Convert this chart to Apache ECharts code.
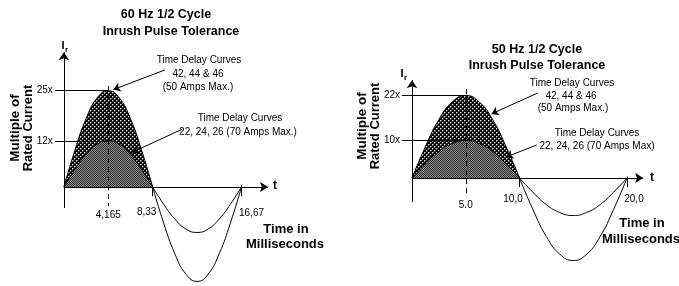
<!DOCTYPE html>
<html><head><meta charset="utf-8">
<script src="https://cdn.jsdelivr.net/npm/echarts@6/dist/echarts.min.js"></script>
<style>html,body{margin:0;padding:0;background:#fff}#c{width:679px;height:286px}</style>
</head><body><div id="c"></div>
<script>
// ---------- DATA ----------
// 60 Hz panel (time in ms, current in multiples of rated current)
const tLeft        = [0, 1.04, 2.08, 3.12, 4.165, 5.21, 6.25, 7.29, 8.33];
const bigLeft      = [0, 9.6, 17.7, 23.1, 25, 23.1, 17.7, 9.6, 0];
const smallLeft    = [0, 4.6, 8.5, 11.1, 12, 11.1, 8.5, 4.6, 0];
const tLeftNeg     = [8.33, 9.37, 10.41, 11.45, 12.5, 13.54, 14.58, 15.62, 16.67];
const bigLeftNeg   = [0, -9.4, -17.3, -22.6, -24.5, -22.6, -17.3, -9.4, 0];
const smallLeftNeg = [0, -4.5, -8.3, -10.9, -11.8, -10.9, -8.3, -4.5, 0];
const yTicksLeft   = [25, 12];
const yLabelsLeft  = ['25x', '12x'];
const xTicksLeft   = [4.165, 8.33, 16.67];
const xLabelsLeft  = ['4,165', '8,33', '16,67'];
const peakLeft     = 4.165;

// 50 Hz panel
const tRight        = [0, 1.25, 2.5, 3.75, 5, 6.25, 7.5, 8.75, 10];
const bigRight      = [0, 8.4, 15.6, 20.3, 22, 20.3, 15.6, 8.4, 0];
const smallRight    = [0, 3.8, 7.1, 9.2, 10, 9.2, 7.1, 3.8, 0];
const tRightNeg     = [10, 11.25, 12.5, 13.75, 15, 16.25, 17.5, 18.75, 20];
const bigRightNeg   = [0, -8.4, -15.6, -20.3, -22, -20.3, -15.6, -8.4, 0];
const smallRightNeg = [0, -3.8, -7.1, -9.2, -10, -9.2, -7.1, -3.8, 0];
const yTicksRight   = [22, 10];
const yLabelsRight  = ['22x', '10x'];
const xTicksRight   = [5, 10, 20];
const xLabelsRight  = ['5.0', '10,0', '20,0'];
const peakRight     = 5;

const titlesLeft  = ['60 Hz 1/2 Cycle', 'Inrush Pulse Tolerance'];
const titlesRight = ['50 Hz 1/2 Cycle', 'Inrush Pulse Tolerance'];
const note1 = ['Time Delay Curves', '42, 44 & 46', '(50 Amps Max.)'];
const note2Left  = ['Time Delay Curves', '22, 24, 26 (70 Amps Max.)'];
const note2Right = ['Time Delay Curves', '22, 24, 26 (70 Amps Max)'];
const yTitle = ['Multiple of', 'Rated Current'];
const xTitle = ['Time in', 'Milliseconds'];

// ---------- STYLE ----------
const FONT = '"Liberation Sans", Arial, Helvetica, sans-serif';
function makePattern(size, fn) {
  const c = document.createElement('canvas'); c.width = c.height = size;
  fn(c.getContext('2d')); return c;
}
const dotPat = makePattern(4, g => {
  g.fillStyle = '#000'; g.fillRect(0, 0, 4, 4);
  g.fillStyle = '#eee'; g.fillRect(0, 0, 1, 1); g.fillRect(2, 2, 1, 1);
  g.fillStyle = '#666'; [[1,0],[0,1],[3,2],[2,3]].forEach(p => g.fillRect(p[0], p[1], 1, 1));
});
const chkPat = makePattern(2, g => {
  g.fillStyle = '#2e2e2e'; g.fillRect(0, 0, 2, 2);
  g.fillStyle = '#8c8c8c'; g.fillRect(1, 0, 1, 1); g.fillRect(0, 1, 1, 1);
});

function pts(xs, ys) { return xs.map((x, i) => [x, ys[i]]); }
function curve(g, xs, ys, z, pat) {
  const s = { type: 'line', xAxisIndex: g, yAxisIndex: g, data: pts(xs, ys), smooth: true,
    symbol: 'none', silent: true, z: z, lineStyle: { color: '#000', width: 1 } };
  if (pat) s.areaStyle = { color: { image: pat, repeat: 'repeat' }, opacity: 1 };
  return s;
}
function lines(g, z, segs, style, arrow) {
  return { type: 'line', xAxisIndex: g, yAxisIndex: g, data: [], z: z, silent: true,
    markLine: { silent: true, animation: false, label: { show: false },
      symbol: arrow ? ['none', 'arrow'] : ['none', 'none'], symbolSize: arrow || 1,
      itemStyle: { color: '#000' },
      lineStyle: Object.assign({ color: '#000', width: 1, type: 'solid' }, style),
      emphasis: { disabled: true },
      data: segs.map(s => [{ coord: s[0] }, { coord: s[1] }]) } };
}

function panel(g, P) {
  const out = [];
  out.push(lines(g, 1, P.yTicks.map(v => [[P.tickStart, v], [P.peak, v]]), {}));
  out.push(curve(g, P.t, P.big, 2, dotPat));
  out.push(curve(g, P.t, P.small, 3, chkPat));
  out.push(curve(g, P.tNeg, P.bigNeg, 3));
  out.push(curve(g, P.tNeg, P.smallNeg, 3));
  out.push(lines(g, 4, [[[P.peak, P.dashTop], [P.peak, P.dashBottom]]], { type: [5, 4] }));
  out.push(lines(g, 5, P.xTicks.filter(v => v !== P.peak).map(v => [[v, P.tickUp], [v, P.tickDown]]), {}));
  out.push(lines(g, 5, [[[0, 0], [P.xEnd, 0]], [[0, P.yBottom], [0, P.yTop]]], {}, 8));
  out.push(lines(g, 6, P.pointers, {}, 7));
  return out;
}

const L = { t: tLeft, big: bigLeft, small: smallLeft, tNeg: tLeftNeg, bigNeg: bigLeftNeg, smallNeg: smallLeftNeg,
  yTicks: yTicksLeft, xTicks: xTicksLeft, peak: peakLeft, tickStart: -0.84, dashTop: 26.2, dashBottom: -4.9,
  tickUp: 0.5, tickDown: -2.4, xEnd: 19.15, yBottom: -5.45, yTop: 35.0,
  pointers: [[[9.49, 30.4], [4.65, 25.3]], [[11.1, 15.0], [6.4, 9.0]]] };
const R = { t: tRight, big: bigRight, small: smallRight, tNeg: tRightNeg, bigNeg: bigRightNeg, smallNeg: smallRightNeg,
  yTicks: yTicksRight, xTicks: xTicksRight, peak: peakRight, tickStart: -0.93, dashTop: 23.7, dashBottom: -4.5,
  tickUp: 0.4, tickDown: -2.4, xEnd: 21.5, yBottom: -6.4, yTop: 26.1,
  pointers: [[[11.72, 22.7], [7.4, 17.1]], [[11.6, 8.8], [8.75, 5.6]]] };

const chart = echarts.init(document.getElementById('c'), null, { renderer: 'canvas' });
chart.setOption({
  animation: false,
  grid: [{ left: 1, top: 0, width: 276, height: 286 }, { left: 340, top: 0, width: 339, height: 286 }],
  xAxis: [{ gridIndex: 0, type: 'value', min: -5.9, max: 20, show: false },
          { gridIndex: 1, type: 'value', min: -6.7, max: 24.84, show: false }],
  yAxis: [{ gridIndex: 0, type: 'value', min: -25.7, max: 48.55, show: false },
          { gridIndex: 1, type: 'value', min: -28.8, max: 47.47, show: false }],
  series: panel(0, L).concat(panel(1, R))
});

// ---------- TEXT ----------
function T(x, y, s, size, bold, align, rot) {
  const font = (bold ? 'bold ' : '') + size + 'px ' + FONT;
  const e = { type: 'text', x: x, y: y, z: 100, silent: true,
    style: { text: s, font: font, fill: '#000', textAlign: align || 'center', align: align || 'center',
             textVerticalAlign: 'middle', verticalAlign: 'middle' } };
  if (rot) e.rotation = rot;
  return e;
}
const G = [];
function px(g, v) { return chart.convertToPixel({ gridIndex: g }, v); }
function tickText(g, ticks, labels, dxs, dys) {
  ticks.forEach((v, i) => { const p = px(g, [v, 0]); G.push(T(p[0] + dxs[i], p[1] + dys[i], labels[i], 10)); });
}
function yTickText(g, ticks, labels, dx) {
  ticks.forEach((v, i) => { const p = px(g, [0, v]); G.push(T(p[0] + dx, p[1], labels[i], 10, false, 'right')); });
}
tickText(0, xTicksLeft, xLabelsLeft, [0, -6, 10], [28, 25, 26]);
tickText(1, xTicksRight, xLabelsRight, [0, -6.5, 7], [27, 21, 21]);
yTickText(0, yTicksLeft, yLabelsLeft, -11);
yTickText(1, yTicksRight, yLabelsRight, -12);

G.push(T(166, 15, titlesLeft[0], 12.5, true), T(171, 32, titlesLeft[1], 12.5, true));
G.push(T(537, 50, titlesRight[0], 12.5, true), T(537, 66, titlesRight[1], 12.5, true));
G.push(T(199, 60, note1[0], 10), T(198, 74, note1[1], 10), T(198, 87, note1[2], 10));
G.push(T(240, 118, note2Left[0], 10), T(238, 132, note2Left[1], 10));
G.push(T(572, 83, note1[0], 10), T(571, 96, note1[1], 10), T(573, 108, note1[2], 10));
G.push(T(597, 133, note2Right[0], 10), T(597, 146, note2Right[1], 10));
G.push(T(15, 128, yTitle[0], 13.5, true, 'center', Math.PI / 2), T(28, 128, yTitle[1], 13, true, 'center', Math.PI / 2));
G.push(T(362, 126, yTitle[0], 13.5, true, 'center', Math.PI / 2), T(375, 126, yTitle[1], 13, true, 'center', Math.PI / 2));
G.push(T(286, 229, xTitle[0], 13, true), T(285, 244, xTitle[1], 13, true));
G.push(T(642, 223, xTitle[0], 13, true), T(641, 239, xTitle[1], 13, true));
G.push(T(275, 186, 't', 12, true), T(652, 178, 't', 12, true));
G.push(T(63, 46, 'I', 11, true), T(66.5, 50, 'r', 8, true));
G.push(T(402, 74, 'I', 11, true), T(405.5, 78, 'r', 8, true));
chart.setOption({ graphic: { elements: G } });
</script></body></html>
